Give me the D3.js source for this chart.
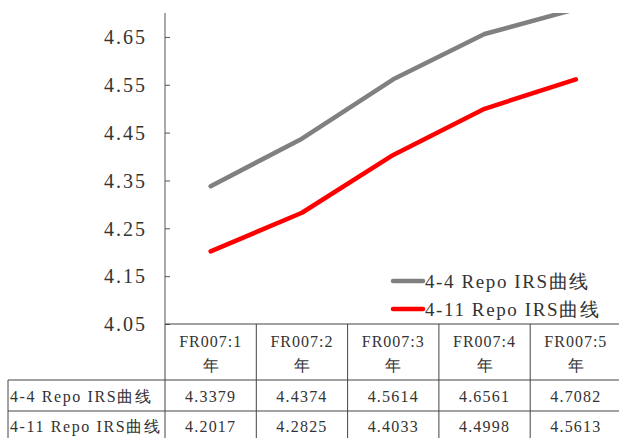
<!DOCTYPE html>
<html>
<head>
<meta charset="utf-8">
<script src="https://cdn.jsdelivr.net/npm/d3@7"></script>
<style>
  html, body { margin: 0; padding: 0; background: #fff; }
  svg { display: block; }
</style>
</head>
<body>
<svg id="chart" width="619" height="438"></svg>
<script>
// Tenors and curve values
const categories = ["FR007:1年", "FR007:2年", "FR007:3年", "FR007:4年", "FR007:5年"];
const headerTop = ["FR007:1", "FR007:2", "FR007:3", "FR007:4", "FR007:5"];
const headerBottom = ["年", "年", "年", "年", "年"];
const seriesNames = ["4-4 Repo IRS曲线", "4-11 Repo IRS曲线"];
const seriesA = [4.3379, 4.4374, 4.5614, 4.6561, 4.7082];
const seriesB = [4.2017, 4.2825, 4.4033, 4.4998, 4.5613];
const yTicks = [4.05, 4.15, 4.25, 4.35, 4.45, 4.55, 4.65];
const colors = ["#808080", "#ff0000"];

const svg = d3.select("#chart");
const FONT = "'Liberation Serif', 'DejaVu Serif', serif";

const plotTop = 13, plotBottom = 324, plotLeft = 165, colW = 91.3;
const x = d3.scaleBand().domain(categories).range([plotLeft, plotLeft + colW * categories.length]).padding(0);
const y = d3.scaleLinear().domain([4.05, 4.70]).range([plotBottom, plotTop]);

// clip for the plot area
svg.append("defs").append("clipPath").attr("id", "plotClip")
  .append("rect").attr("x", plotLeft).attr("y", plotTop)
  .attr("width", 619 - plotLeft).attr("height", plotBottom - plotTop);

// y axis with inward ticks
const yAxis = d3.axisRight(y).tickValues(yTicks).tickSize(5).tickFormat("");
const gy = svg.append("g").attr("transform", `translate(${plotLeft},0)`).call(yAxis);
gy.select(".domain").attr("stroke", "#555").attr("d", `M0,${plotTop}V${plotBottom}`);
gy.selectAll(".tick line").attr("stroke", "#555");

svg.append("g").selectAll("text").data(yTicks).join("text")
  .attr("x", 147).attr("y", d => y(d)).attr("dy", "0.36em")
  .attr("text-anchor", "end")
  .style("font-family", FONT).style("font-size", "20px").style("letter-spacing", "2px")
  .attr("fill", "#333")
  .text(d => d.toFixed(2));

// lines
const line = d3.line().x((d, i) => x(categories[i]) + x.bandwidth() / 2).y(d => y(d));
const g = svg.append("g").attr("clip-path", "url(#plotClip)");
[seriesA, seriesB].forEach((s, k) => {
  g.append("path").datum(s).attr("d", line)
    .attr("fill", "none").attr("stroke", colors[k]).attr("stroke-width", 4.5)
    .attr("stroke-linejoin", "round").attr("stroke-linecap", "round");
});

// legend
const legY = [281, 309];
seriesNames.forEach((n, k) => {
  svg.append("line").attr("x1", 393).attr("x2", 423).attr("y1", legY[k]).attr("y2", legY[k])
    .attr("stroke", colors[k]).attr("stroke-width", 4.5).attr("stroke-linecap", "round");
  svg.append("text").attr("x", 425).attr("y", legY[k]).attr("dy", "0.36em")
    .style("font-family", FONT).style("font-size", "19px").style("letter-spacing", "1.6px")
    .attr("fill", "#333").text(n);
});

// data table
const gridColor = "#444";
const right = plotLeft + colW * categories.length;
const rowBottom = 443;
const tg = svg.append("g");
tg.append("line").attr("x1", plotLeft).attr("x2", right).attr("y1", plotBottom).attr("y2", plotBottom).attr("stroke", gridColor);
[380, 411, rowBottom].forEach(yy => tg.append("line").attr("x1", 8).attr("x2", right).attr("y1", yy).attr("y2", yy).attr("stroke", gridColor));
tg.append("line").attr("x1", 8).attr("x2", 8).attr("y1", 380).attr("y2", rowBottom).attr("stroke", gridColor);
categories.forEach(c => {
  tg.append("line").attr("x1", x(c)).attr("x2", x(c)).attr("y1", plotBottom).attr("y2", rowBottom).attr("stroke", gridColor);
});
tg.append("line").attr("x1", right).attr("x2", right).attr("y1", plotBottom).attr("y2", rowBottom).attr("stroke", gridColor);

categories.forEach((c, i) => {
  const cx = x(c) + x.bandwidth() / 2;
  tg.append("text").attr("x", cx).attr("y", 341).attr("dy", "0.36em").attr("text-anchor", "middle")
    .style("font-family", FONT).style("font-size", "16px").style("letter-spacing", "1px").attr("fill", "#333").text(headerTop[i]);
  tg.append("text").attr("x", cx).attr("y", 365).attr("dy", "0.36em").attr("text-anchor", "middle")
    .style("font-family", FONT).style("font-size", "16px").attr("fill", "#333").text(headerBottom[i]);
  [seriesA, seriesB].forEach((s, k) => {
    tg.append("text").attr("x", cx).attr("y", (k === 0 ? 396 : 426)).attr("dy", "0.36em").attr("text-anchor", "middle")
      .style("font-family", FONT).style("font-size", "16px").style("letter-spacing", "1.2px").attr("fill", "#333")
      .text(s[i].toFixed(4));
  });
});
seriesNames.forEach((n, k) => {
  tg.append("text").attr("x", 10).attr("y", (k === 0 ? 396 : 426)).attr("dy", "0.36em")
    .style("font-family", FONT).style("font-size", "16px").style("letter-spacing", "1.6px").attr("fill", "#333").text(n);
});
</script>
</body>
</html>
